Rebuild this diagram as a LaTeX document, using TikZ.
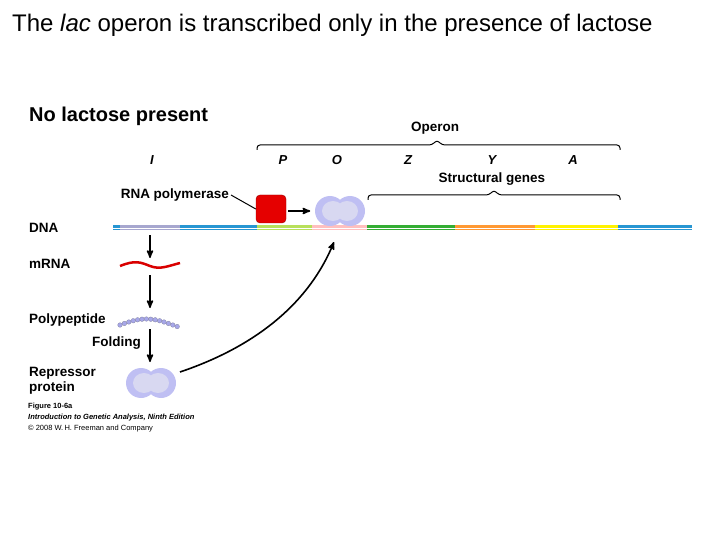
\documentclass[tikz,border=0pt]{standalone}
\usepackage{fontspec}
\setmainfont{Liberation Sans}
\usetikzlibrary{arrows,decorations.pathreplacing}
\definecolor{dnablue}{RGB}{40,150,210}
\definecolor{lilac}{RGB}{185,185,230}
\tikzset{
  lbl/.style={font=\bfseries\fontsize{13.5}{15}\selectfont,inner sep=0pt},
  gene/.style={font=\bfseries\itshape\fontsize{13}{14}\selectfont,inner sep=0pt},
  flow/.style={->,>=stealth',line width=1.6pt},
  seg/.style={line width=5pt},
}
\newcommand{\repressor}[2]{%
  \fill[lilac!80!blue!60] (#1-10,#2) circle[x radius=15pt,y radius=15pt];
  \fill[lilac!80!blue!60] (#1+10,#2) circle[x radius=15pt,y radius=15pt];
  \fill[lilac!55!white] (#1-7,#2) circle[x radius=11pt,y radius=10pt];
  \fill[lilac!55!white] (#1+7,#2) circle[x radius=11pt,y radius=10pt];
}
\begin{document}
\begin{tikzpicture}[x=1pt,y=-1pt]
  \useasboundingbox (0,0) rectangle (720,540);
  \node[anchor=west,font=\fontsize{24}{27}\selectfont,inner sep=0pt] (title) at (12,25) {The \emph{lac} operon is transcribed only in the presence of lactose};
  \node[anchor=west,font=\bfseries\fontsize{20}{22}\selectfont,inner sep=0pt] (head) at (29,116) {No lactose present};

  % DNA
  \draw[dnablue,line width=5pt] (113,228) -- (692,228);
  \foreach \a/\b/\c in {120/180/lilac!90!black,257/312/yellow!60!green!70,312/367/pink,367/455/green!60!black!80,455/535/orange!80,535/618/yellow}
    \draw[seg,\c] (\a,228) -- (\b,228);
  \draw[white,line width=0.8pt] (113,228) -- (692,228);

  % braces
  \draw[line width=1pt,rounded corners=3pt] (257,150) -- (257,145) -- (432,145) -- (437,140) -- (442,145) -- (620,145) -- (620,150);
  \node[lbl] (operon) at (435,128) {Operon};
  \draw[line width=1pt,rounded corners=3pt] (368,200) -- (368,195) -- (489,195) -- (494,190) -- (499,195) -- (620,195) -- (620,200);
  \node[lbl] (struct) at (492,179) {Structural genes};
  \foreach \g/\x in {I/152,P/283,O/337,Z/408,Y/492,A/573}
    \node[gene] (g\g) at (\x,160) {\g};

  % polymerase and repressor on operator
  \node[fill=red!90!black,draw=red!60!black,rounded corners=4pt,minimum width=30pt,minimum height=28pt] (pol) at (271,209) {};
  \node[lbl,anchor=east] (polname) at (229,195) {RNA polymerase};
  \draw[line width=1pt] (polname.east) ++(2,0) -- (pol.west);
  \repressor{340}{211}
  \coordinate (op) at (340,211);
  \coordinate (opbot) at (334,242);
  \draw[flow] (pol.east) ++(2,2) -- ++(22,0);

  % left column
  \node[lbl,anchor=west] (dna) at (29,228) {DNA};
  \node[lbl,anchor=west] (mrna) at (29,264) {mRNA};
  \node[lbl,anchor=west] (poly) at (29,320) {Polypeptide};
  \node[lbl,anchor=east] (fold) at (141,343) {Folding};
  \node[lbl,anchor=west,align=left] (rep) at (29,381) {Repressor\\protein};
  \draw[red!85!black,line width=2.5pt] (120,266) .. controls (135,260) and (140,262) .. (150,266) .. controls (160,270) and (168,266) .. (180,263);
  \foreach \i in {0,...,13}
    \fill[lilac!90!blue,draw=lilac!70!black,line width=0.3pt] ({120+\i*4.4},{325-6*sin(\i*15)}) circle (2.3pt);
  \coordinate (a1) at (150,235);
  \coordinate (a2) at (150,258);
  \coordinate (b1) at (150,275);
  \coordinate (b2) at (150,308);
  \coordinate (c1) at (150,329);
  \coordinate (c2) at (150,362);
  \draw[flow] (a1) -- (a2);
  \draw[flow] (b1) -- (b2);
  \draw[flow] (c1) -- (c2);
  \repressor{151}{383}
  \coordinate (repr) at (180,372);
  \draw[flow] (repr) .. controls (260,345) and (310,300) .. (opbot);

  \node[anchor=west,font=\bfseries\fontsize{7.5}{8}\selectfont,inner sep=0pt] (cap1) at (28,407) {Figure 10-6a};
  \node[anchor=west,font=\bfseries\itshape\fontsize{7.5}{8}\selectfont,inner sep=0pt] (cap2) at (28,418) {Introduction to Genetic Analysis, Ninth Edition};
  \node[anchor=west,font=\fontsize{7.5}{8}\selectfont,inner sep=0pt] (cap3) at (28,429) {© 2008 W.\,H. Freeman and Company};
\end{tikzpicture}
\end{document}
